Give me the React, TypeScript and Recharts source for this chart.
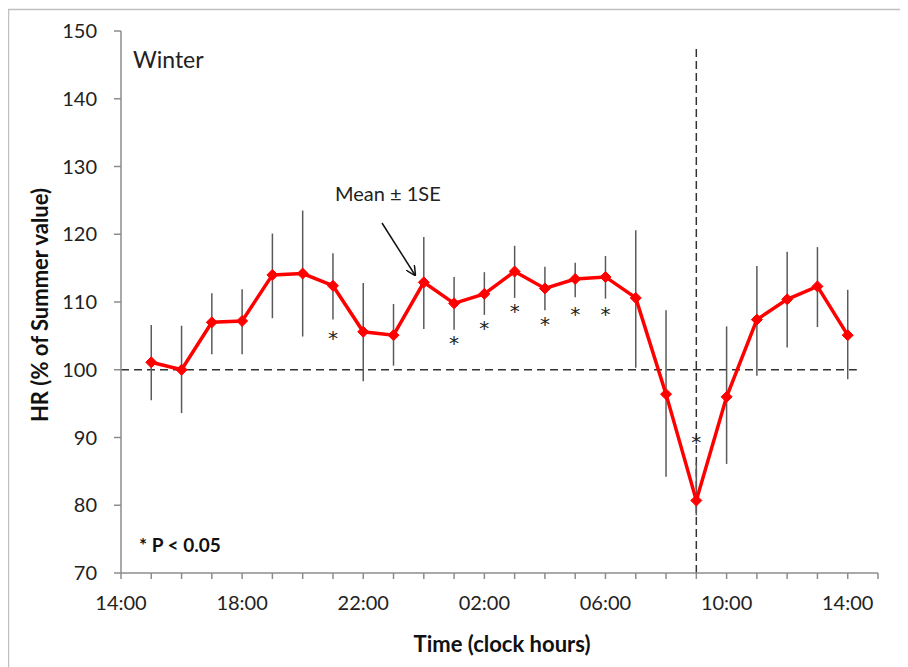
import React from "react"
import {
  ComposedChart,
  Line,
  ErrorBar,
  XAxis,
  YAxis,
  ReferenceLine,
  Scatter,
} from "recharts"

// hours after 14:00 (15:00 ... 14:00 next day)
const times = [
  "15:00", "16:00", "17:00", "18:00", "19:00", "20:00", "21:00", "22:00",
  "23:00", "00:00", "01:00", "02:00", "03:00", "04:00", "05:00", "06:00",
  "07:00", "08:00", "09:00", "10:00", "11:00", "12:00", "13:00", "14:00",
]
const hourPos = [1, 2, 3, 4, 5, 6, 7, 8, 9, 10, 11, 12, 13, 14, 15, 16, 17, 18, 19, 20, 21, 22, 23, 24]
const hrMean = [
  101.1, 100.0, 107.0, 107.2, 114.0, 114.2, 112.4, 105.6, 105.1, 112.9, 109.8, 111.2,
  114.5, 112.0, 113.4, 113.7, 110.6, 96.4, 80.7, 96.0, 107.4, 110.4, 112.3, 105.1,
]
const seUpper = [
  106.6, 106.5, 111.3, 111.9, 120.1, 123.5, 117.2, 112.8, 109.7, 119.6, 113.7, 114.4,
  118.3, 115.2, 115.8, 116.8, 120.6, 108.8, 86.3, 106.4, 115.3, 117.4, 118.1, 111.8,
]
const seLower = [
  95.5, 93.6, 102.3, 102.3, 107.6, 104.9, 107.4, 98.3, 100.6, 106.0, 105.9, 108.1,
  110.6, 108.8, 110.7, 110.5, 100.3, 84.2, 78.5, 86.1, 99.1, 103.3, 106.3, 98.6,
]

// significance asterisks
const sigPos = [7, 11, 12, 13, 14, 15, 16, 19]
const sigMarkY = [105.0, 104.2, 106.4, 109.0, 107.0, 108.5, 108.5, 89.7]

const xTicks = [0, 1, 2, 3, 4, 5, 6, 7, 8, 9, 10, 11, 12, 13, 14, 15, 16, 17, 18, 19, 20, 21, 22, 23, 24, 25]
const xLabelPos = [0, 4, 8, 12, 16, 20, 24]
const xLabels = ["14:00", "18:00", "22:00", "02:00", "06:00", "10:00", "14:00"]
const yTicks = [70, 80, 90, 100, 110, 120, 130, 140, 150]

const FONT = "Lato, 'Open Sans', sans-serif"

const data = hourPos.map((x, i) => ({
  x,
  time: times[i],
  mean: hrMean[i],
  err: [hrMean[i] - seLower[i], seUpper[i] - hrMean[i]],
}))

const sigData = sigPos.map((x, i) => ({ x, y: sigMarkY[i] }))

const XTick = (props: any) => {
  const { x, y, payload } = props
  const idx = xLabelPos.indexOf(payload.value)
  if (idx < 0) return null
  return (
    <text x={x} y={y} dy="0.71em" textAnchor="middle" fontSize={20} fontFamily={FONT} fill="#222">
      {xLabels[idx]}
    </text>
  )
}

const Diamond = (props: any) => {
  const { cx, cy } = props
  if (cx == null || cy == null) return null
  const r = 5.5
  return (
    <polygon
      points={`${cx},${cy - r} ${cx + r},${cy} ${cx},${cy + r} ${cx - r},${cy}`}
      fill="#ff0000"
      stroke="#ff0000"
    />
  )
}

const Star = (props: any) => {
  const { cx, cy } = props
  return (
    <text
      x={cx}
      y={cy + 9}
      textAnchor="middle"
      fontSize={20}
      fontFamily="'DejaVu Sans', sans-serif"
      fill="#222"
      stroke="none"
    >
      *
    </text>
  )
}

export default function App() {
  return (
    <div style={{ position: "relative", width: 900, height: 659 }}>
      <ComposedChart
        width={900}
        height={659}
        data={data}
        margin={{ top: 23, right: 30, left: 53, bottom: 64 }}
      >
        <XAxis
          type="number"
          dataKey="x"
          domain={[0, 25]}
          ticks={xTicks}
          interval={0}
          height={30}
          tick={<XTick />}
          tickSize={6}
          tickMargin={17}
          stroke="#8c8c8c"
          strokeWidth={1.5}
        />
        <YAxis
          type="number"
          domain={[70, 150]}
          ticks={yTicks}
          interval={0}
          width={60}
          tickSize={7}
          tickMargin={17}
          stroke="#8c8c8c"
          strokeWidth={1.5}
          tick={{ fontSize: 20, fontFamily: FONT, fill: "#222" }}
        />
        <ReferenceLine
          segment={[{ x: 0, y: 100 }, { x: 24.3, y: 100 }]}
          stroke="#333"
          strokeWidth={1.5}
          strokeDasharray="8 5"
        />
        <ReferenceLine
          segment={[{ x: 19, y: 70 }, { x: 19, y: 147.9 }]}
          stroke="#333"
          strokeWidth={1.5}
          strokeDasharray="8 4"
        />
        {/* error bars behind the line */}
        <Line dataKey="mean" stroke="none" dot={false} isAnimationActive={false}>
          <ErrorBar dataKey="err" width={0} stroke="#5a5a5a" strokeWidth={1.5} />
        </Line>
        <Line
          dataKey="mean"
          stroke="#ff0000"
          strokeWidth={3.5}
          dot={<Diamond />}
          activeDot={false}
          isAnimationActive={false}
        />
        <Scatter data={sigData} dataKey="y" shape={<Star />} isAnimationActive={false} />
      </ComposedChart>
      <svg
        width={900}
        height={659}
        style={{ position: "absolute", left: 0, top: 0, pointerEvents: "none" }}
      >
        <defs>
          <marker id="arrowhead" markerWidth="10" markerHeight="10" refX="9" refY="5" orient="auto" markerUnits="userSpaceOnUse">
            <path d="M0,0 L10,5 L0,10" fill="none" stroke="#111" strokeWidth={1.5} />
          </marker>
        </defs>
        <rect x={0.5} y={1.5} width={1000} height={1000} fill="none" stroke="#c0c0c0" strokeWidth={1.5} />
        <text x={125} y={60} fontSize={23} fontFamily={FONT} fill="#222">Winter</text>
        <text x={131} y={544} fontSize={19} fontFamily={FONT} fontWeight="bold" fill="#111">* P &lt; 0.05</text>
        <text x={327} y={193} fontSize={20} fontFamily={FONT} fill="#222">Mean ± 1SE</text>
        <line x1={374} y1={215} x2={407} y2={267} stroke="#111" strokeWidth={1.5} markerEnd="url(#arrowhead)" />
        <text
          x={494}
          y={644}
          textAnchor="middle"
          fontSize={22}
          fontFamily={FONT}
          fontWeight="bold"
          fill="#111"
        >
          Time (clock hours)
        </text>
        <text
          x={0}
          y={0}
          transform="translate(40,297) rotate(-90)"
          textAnchor="middle"
          fontSize={22}
          fontFamily={FONT}
          fontWeight="bold"
          fill="#111"
        >
          HR (% of Summer value)
        </text>
      </svg>
    </div>
  )
}
